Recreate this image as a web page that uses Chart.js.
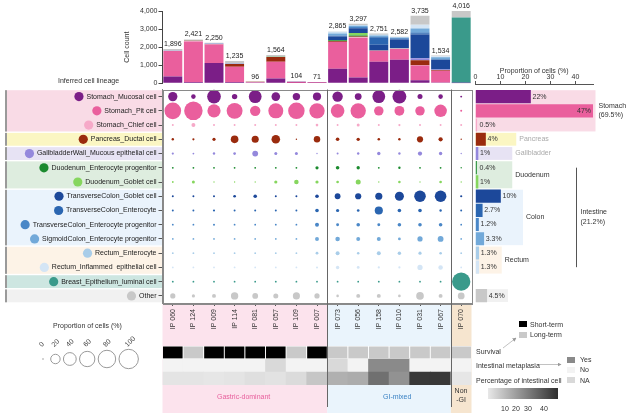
<!DOCTYPE html>
<html lang="en">
<head>
<meta charset="utf-8">
<title>Inferred cell lineage</title>
<script src="https://cdn.jsdelivr.net/npm/chart.js@4.4.1/dist/chart.umd.min.js"></script>
<style>
  html, body { margin: 0; padding: 0; background: #fff; }
  #fig { position: relative; width: 629px; height: 415px; overflow: hidden;
         font-family: "Liberation Sans", Arial, sans-serif; font-size: 7px; color: #333; }
  #fig canvas, #fig svg { position: absolute; left: 0; top: 0; }
  .txt { position: absolute; white-space: nowrap; line-height: 7px; }
  .key { position: absolute; width: 8px; height: 6px; }
</style>
</head>
<body>
<div id="fig">
  <canvas id="matrixChart" width="629" height="415"></canvas>
  <canvas id="heatChart" width="629" height="415"></canvas>
  <canvas id="propChart" width="629" height="415"></canvas>
  <canvas id="countChart" width="629" height="415"></canvas>

  <svg width="629" height="415">
    <defs>
      <marker id="arr" markerUnits="userSpaceOnUse" markerWidth="4" markerHeight="4" refX="3.5" refY="2" orient="auto">
        <path d="M0,0 L4,2 L0,4 z" fill="#999"/>
      </marker>
    </defs>
    <line x1="503" y1="348" x2="516" y2="338" stroke="#999" stroke-width="0.6" marker-end="url(#arr)"/>
    <line x1="537" y1="364.5" x2="561" y2="364.5" stroke="#999" stroke-width="0.6" marker-end="url(#arr)"/>
  </svg>

  <div class="txt" style="left:58px;top:77px">Inferred cell lineage</div>
  <div class="txt" style="left:53px;top:322px">Proportion of cells (%)</div>

  <div class="txt" style="left:217px;top:393px;color:#e8609d">Gastric-dominant</div>
  <div class="txt" style="left:383px;top:393px;color:#3b82c4">GI-mixed</div>
  <div class="txt" style="left:451px;top:387px;width:20px;text-align:center;line-height:8.5px">Non<br>-GI</div>

  <div class="key" style="left:519px;top:321px;background:#000"></div>
  <div class="txt" style="left:530px;top:321px">Short-term</div>
  <div class="key" style="left:519px;top:331.5px;background:#c9c9c9"></div>
  <div class="txt" style="left:530px;top:331px">Long-term</div>

  <div class="txt" style="left:476px;top:348px">Survival</div>
  <div class="txt" style="left:476px;top:361.5px">Intestinal metaplasia</div>
  <div class="txt" style="left:476px;top:376.5px">Percentage of intestinal cell</div>

  <div class="key" style="left:567px;top:356.5px;background:#8a8a8a"></div>
  <div class="txt" style="left:580px;top:356px">Yes</div>
  <div class="key" style="left:567px;top:366.5px;background:#f3f3f3"></div>
  <div class="txt" style="left:580px;top:366px">No</div>
  <div class="key" style="left:567px;top:376.5px;background:#d9d9d9"></div>
  <div class="txt" style="left:580px;top:377px">NA</div>

  <div style="position:absolute;left:488px;top:388px;width:70px;height:11px;background:linear-gradient(to right,#e8e8e8,#2e2e2e)"></div>
  <div class="txt" style="left:501px;top:404.5px">10</div>
  <div class="txt" style="left:512px;top:404.5px">20</div>
  <div class="txt" style="left:524px;top:404.5px">30</div>
  <div class="txt" style="left:540px;top:404.5px">40</div>
</div>

<script>
/* ── DATA ───────────────────────────────────────── */
const samples = ["IP 060", "IP 124", "IP 009", "IP 114", "IP 081", "IP 057", "IP 109", "IP 007",
  "IP 073", "IP 056", "IP 158", "IP 010", "IP 031", "IP 067", "IP 070"];
const cellTotals = [1896, 2421, 2250, 1235, 96, 1564, 104, 71, 2865, 3297, 2751, 2582, 3735, 1534, 4016];

const lineages = [
  "Stomach_Mucosal cell", "Stomach_Pit cell", "Stomach_Chief cell", "Pancreas_Ductal cell",
  "GallbladderWall_Mucous epithelial cell", "Duodenum_Enterocyte progenitor", "Duodenum_Goblet cell",
  "TransverseColon_Goblet cell", "TransverseColon_Enterocyte", "TransverseColon_Enterocyte progenitor",
  "SigmoidColon_Enterocyte progenitor", "Rectum_Enterocyte", "Rectum_Inflammed  epithelial cell",
  "Breast_Epithelium_luminal cell", "Other"];
const lineageColors = ["#7b1e87", "#ea5f9d", "#f6a9c8", "#9a2b0e", "#9488dc", "#1b8a2e", "#86d65e",
  "#1c489a", "#2b66b1", "#4a87c7", "#72a9d9", "#a9cde9", "#d4e5f5", "#3a9a8b", "#c8c8c8"];

// proportion of cells (%) in each sample, same order as samples
const mucosal     = [19, 3, 47, 5, 40, 16, 11, 14, 25, 9, 40, 48, 4, 3, 0.1];
const pit         = [72, 90, 43, 65, 25, 57, 70, 60, 46, 60, 20, 22, 20, 38, 0.1];
const chief       = [0.1, 2, 0.1, 0.1, 0.1, 0.1, 0.1, 0.5, 0.1, 0.8, 0.1, 0.2, 0.1, 0.1, 0.1];
const pancreas    = [0.3, 0.2, 1, 12, 10, 16, 0, 8, 1.5, 1.2, 0.4, 0.3, 7, 2.5, 0];
const gallbladder = [0.2, 0.05, 0.3, 0.5, 6, 0.8, 0.8, 0, 0.1, 0.3, 1.2, 0.3, 2.5, 1.2, 0];
const duoEntProg  = [0.05, 0.05, 0.05, 0.05, 0.05, 0.05, 0.05, 1, 1.5, 1.2, 0.05, 0.3, 0.05, 0.05, 0];
const duoGoblet   = [0.05, 0.8, 0, 0, 0, 1, 3, 1, 0.5, 4, 0, 0.4, 0, 0.5, 0];
const tcGoblet    = [0.1, 0.1, 0.1, 0.5, 1.5, 0.1, 0.1, 1.5, 6, 7, 10, 18, 32, 32, 0.2];
const tcEnt       = [0.1, 0.1, 0.2, 0.1, 0.1, 0.1, 0.1, 1.5, 1, 0.5, 14, 1.5, 1.5, 0.3, 0.1];
const tcEntProg   = [0.05, 0.05, 0.1, 0.05, 0.05, 0.05, 0.05, 2, 0.7, 1.5, 0.7, 1.5, 1.5, 1.5, 0.05];
const sigmoid     = [0.05, 0.05, 0.05, 0.05, 0.05, 0.05, 0.05, 2, 3, 2, 2, 0.6, 4.5, 6, 0.05];
const rectumEnt   = [0.05, 0.05, 0.05, 0.05, 0.05, 0.05, 0.05, 0.6, 2, 0.4, 2, 1.3, 1, 0.4, 0.05];
const rectumInfl  = [0.05, 0.05, 0.05, 0.05, 0.05, 0.05, 0.05, 0.1, 1.3, 0.6, 0.2, 0.2, 4.5, 3, 0.05];
const breast      = [0.05, 0.05, 0.05, 0.05, 0.05, 0.05, 0.05, 0.05, 0.05, 0.05, 0.05, 0.05, 0.05, 0.05, 88];
const other       = [4.5, 1, 2, 11, 6, 4, 10, 4.5, 0.4, 2, 2, 0.5, 12, 2, 9];
const proportions = [mucosal, pit, chief, pancreas, gallbladder, duoEntProg, duoGoblet, tcGoblet,
  tcEnt, tcEntProg, sigmoid, rectumEnt, rectumInfl, breast, other];

// overall proportion of cells (%) per lineage (breast not shown)
const overallPct = [22, 47, 0.5, 4, 1, 0.4, 1, 10, 2.7, 1.2, 3.3, 1.3, 1.3, null, 4.5];

// lineage groups (rows)
const groupNames  = ["Stomach\n(69.5%)", "Pancreas", "Gallbladder", "Duodenum", "Colon", "Rectum", "", ""];
const groupFirst  = [0, 3, 4, 5, 7, 11, 13, 14];
const groupLast   = [2, 3, 4, 6, 10, 12, 13, 14];
const groupFill   = ["#f9dbe6", "#fbf6c3", "#e7e3f4", "#deeddf", "#eaf3fc", "#fdf3e7", "#cde6e1", "#f1f1f1"];
const groupBand   = [48, 16.3, 14.7, 14.7, 19, 10.5, 0, 13];
const groupText   = ["#333", "#aaa", "#aaa", "#333", "#333", "#333", "#333", "#333"];
const intestineRows = [5, 12];
const intestineLabel = ["Intestine", "(21.2%)"];

// sample groups (columns)
const colGroupFirst = [0, 8, 14];
const colGroupLast  = [7, 13, 14];
const colGroupFill  = ["#fce3ed", "#eaf4fc", "#f6e5cf"];

// clinical tracks
const survival     = ["Short", "Long", "Short", "Short", "Short", "Short", "Long", "Short",
  "Long", "Long", "Long", "Long", "Long", "Long", "Long"];
const metaplasia   = ["No", "No", "No", "No", "No", "NA", "No", "No", "NA", "No", "Yes", "Yes", "No", "No", "No"];
const intestinalPct = [1, 1, 0.5, 1, 2, 1.5, 3, 8, 13, 14, 28, 20, 41, 41, 0.5];
const survivalColors = { Short: "#000000", Long: "#c9c9c9" };
const metaplasiaColors = { Yes: "#8a8a8a", No: "#f3f3f3", NA: "#d9d9d9" };

const sizeLegend = [0, 20, 40, 60, 80, 100];

/* ── HELPERS ────────────────────────────────────── */
const rOf = (p) => 0.9 * Math.sqrt(p) + 0.7;
const pctShade = (p) => {
  const g = Math.round(Math.max(40, 232 - p * 4.3));
  return `rgb(${g},${g},${g})`;
};
const sampleSums = samples.map((s, j) => proportions.reduce((acc, row) => acc + row[j], 0));
const FONT = '"Liberation Sans", Arial, sans-serif';

Chart.defaults.font.family = FONT;
Chart.defaults.font.size = 7;
Chart.defaults.color = "#333";
Chart.defaults.animation = false;
Chart.defaults.events = [];
Chart.defaults.plugins.legend.display = false;
Chart.defaults.plugins.tooltip.enabled = false;

/* ── MATRIX DECOR ───────────────────────────────── */
const matrixDecor = {
  id: "matrixDecor",
  beforeDraw(chart) {
    const { ctx, chartArea: a, scales: { x, y } } = chart;
    ctx.save();
    groupFirst.forEach((f, g) => {
      const y0 = y.getPixelForValue(f - 0.5) + 0.7;
      const y1 = y.getPixelForValue(groupLast[g] + 0.5) - 0.7;
      ctx.fillStyle = groupFill[g];
      ctx.fillRect(5, y0, a.left - 5, y1 - y0);
      ctx.fillStyle = "#9a9a9a";
      ctx.fillRect(5, y0, 2, y1 - y0);
    });
    colGroupFirst.forEach((f, g) => {
      const x0 = x.getPixelForValue(f - 0.5);
      const x1 = x.getPixelForValue(colGroupLast[g] + 0.5);
      ctx.fillStyle = colGroupFill[g];
      ctx.fillRect(x0, a.bottom, x1 - x0, 413 - a.bottom);
    });
    ctx.restore();
  },
  afterDraw(chart) {
    const { ctx, chartArea: a, scales: { x, y } } = chart;
    ctx.save();
    // frame and group separators
    ctx.strokeStyle = "#8a8a8a";
    ctx.lineWidth = 1;
    ctx.strokeRect(Math.round(a.left) + 0.5, Math.round(a.top) + 0.5,
      Math.round(a.right - a.left), Math.round(a.bottom - a.top));
    ctx.strokeStyle = "#666";
    colGroupLast.slice(0, -1).forEach((l) => {
      const px = Math.round(x.getPixelForValue(l + 0.5)) + 0.5;
      ctx.beginPath();
      ctx.moveTo(px, a.top);
      ctx.lineTo(px, 407);
      ctx.stroke();
    });
    // coloured dot in front of each lineage name
    ctx.font = `7px ${FONT}`;
    const labelRight = y.right - 4 - 2;
    lineages.forEach((name, i) => {
      const w = ctx.measureText(name).width;
      ctx.beginPath();
      ctx.arc(labelRight - w - 7.5, y.getPixelForValue(i), 4.6, 0, Math.PI * 2);
      ctx.fillStyle = lineageColors[i];
      ctx.fill();
    });
    // bubble size key
    let cx = 43;
    const cy = 359;
    sizeLegend.forEach((v, k) => {
      const r = rOf(v);
      if (k > 0) cx += rOf(sizeLegend[k - 1]) + r + (k === 1 ? 7 : 3.3);
      ctx.beginPath();
      ctx.arc(cx, cy, r, 0, Math.PI * 2);
      if (v === 0) {
        ctx.fillStyle = "#888";
        ctx.fill();
      } else {
        ctx.strokeStyle = "#999";
        ctx.lineWidth = 1;
        ctx.stroke();
      }
      ctx.save();
      ctx.translate(cx - 2.5, 346);
      ctx.rotate(-Math.PI / 4);
      ctx.fillStyle = "#444";
      ctx.textAlign = "left";
      ctx.textBaseline = "middle";
      ctx.fillText(String(v), 0, 0);
      ctx.restore();
    });
    ctx.restore();
  },
};

/* ── MATRIX (bubble) ────────────────────────────── */
new Chart(document.getElementById("matrixChart"), {
  type: "bubble",
  data: {
    datasets: lineages.map((name, i) => ({
      label: name,
      data: samples.map((s, j) => ({ x: s, y: name, r: rOf(proportions[i][j]) })),
      backgroundColor: lineageColors[i],
      borderWidth: 0,
    })),
  },
  options: {
    responsive: false,
    layout: { padding: { left: 12.5, right: 157.5, top: 89.5, bottom: 77 } },
    scales: {
      x: {
        type: "category",
        labels: samples,
        offset: true,
        grid: { drawOnChartArea: false, tickLength: 3, color: "#555" },
        border: { color: "#888" },
        ticks: { autoSkip: false, minRotation: 90, maxRotation: 90, padding: 3, color: "#333" },
        afterFit: (s) => { s.height = 35; },
      },
      y: {
        type: "category",
        labels: lineages,
        offset: true,
        grid: { drawOnChartArea: false, tickLength: 4, color: "#555" },
        border: { color: "#888" },
        ticks: { autoSkip: false, padding: 2, color: "#222" },
        afterFit: (s) => { s.width = 150; },
      },
    },
  },
  plugins: [matrixDecor],
});

/* ── CLINICAL TRACKS (heatmap) ──────────────────── */
const heatDecor = {
  id: "heatDecor",
  afterDraw(chart) {
    const { ctx, chartArea: a, scales: { x } } = chart;
    ctx.save();
    ctx.strokeStyle = "#666";
    ctx.lineWidth = 1;
    colGroupLast.slice(0, -1).forEach((l) => {
      const px = Math.round(x.getPixelForValue(l + 0.5)) + 0.5;
      ctx.beginPath();
      ctx.moveTo(px, a.top);
      ctx.lineTo(px, a.bottom);
      ctx.stroke();
    });
    ctx.restore();
  },
};

new Chart(document.getElementById("heatChart"), {
  type: "bar",
  data: {
    labels: samples,
    datasets: [
      { label: "Percentage of intestinal cell", data: samples.map(() => 1),
        backgroundColor: intestinalPct.map(pctShade) },
      { label: "Intestinal metaplasia", data: samples.map(() => 1),
        backgroundColor: metaplasia.map((m) => metaplasiaColors[m]) },
      { label: "Survival", data: samples.map(() => 1),
        backgroundColor: survival.map((s) => survivalColors[s]),
        borderColor: "#fff", borderWidth: 0.8, borderSkipped: false },
    ],
  },
  options: {
    responsive: false,
    layout: { padding: { left: 162.5, right: 157.5, top: 346, bottom: 30 } },
    datasets: { bar: { barPercentage: 1, categoryPercentage: 1 } },
    scales: {
      x: { display: false, stacked: true },
      y: { display: false, stacked: true, min: 0, max: 3 },
    },
  },
  plugins: [heatDecor],
});

/* ── OVERALL PROPORTION (right bars) ────────────── */
const propRows = lineages.map((n, i) => i).filter((i) => overallPct[i] !== null);

const propDecor = {
  id: "propDecor",
  beforeDatasetsDraw(chart) {
    const { ctx, chartArea: a, scales: { x, y } } = chart;
    ctx.save();
    groupFirst.forEach((f, g) => {
      if (!groupBand[g]) return;
      const y0 = y.getPixelForValue(f - 0.5) + 0.7;
      const y1 = y.getPixelForValue(groupLast[g] + 0.5) - 0.7;
      ctx.fillStyle = groupFill[g];
      ctx.fillRect(a.left, y0, x.getPixelForValue(groupBand[g]) - a.left, y1 - y0);
    });
    ctx.restore();
  },
  afterDatasetsDraw(chart) {
    const { ctx, chartArea: a, scales: { x, y } } = chart;
    ctx.save();
    ctx.font = `7px ${FONT}`;
    ctx.textBaseline = "middle";
    // value labels
    chart.getDatasetMeta(0).data.forEach((bar, k) => {
      const v = overallPct[propRows[k]];
      ctx.fillStyle = "#333";
      if (v > 40) {
        ctx.textAlign = "right";
        ctx.fillText(v + "%", bar.x - 2, bar.y);
      } else {
        ctx.textAlign = "left";
        ctx.fillText(v + "%", Math.max(bar.x + 2, a.left + 4), bar.y);
      }
    });
    // group names beside the bands
    ctx.textAlign = "left";
    groupNames.forEach((name, g) => {
      if (!name) return;
      const lines = name.split("\n");
      const yc = (y.getPixelForValue(groupFirst[g]) + y.getPixelForValue(groupLast[g])) / 2;
      ctx.fillStyle = groupText[g];
      lines.forEach((t, k) => {
        ctx.fillText(t, x.getPixelForValue(groupBand[g]) + 3, yc + (k - (lines.length - 1) / 2) * 9);
      });
    });
    // intestine bracket
    const y0 = y.getPixelForValue(intestineRows[0]);
    const y1 = y.getPixelForValue(intestineRows[1]);
    const lx = Math.round(x.getPixelForValue(40)) + 0.5;
    ctx.strokeStyle = "#555";
    ctx.lineWidth = 1;
    ctx.beginPath();
    ctx.moveTo(lx, y0);
    ctx.lineTo(lx, y1);
    ctx.stroke();
    ctx.fillStyle = "#333";
    intestineLabel.forEach((t, k) => {
      ctx.fillText(t, lx + 4, (y0 + y1) / 2 + (k - 0.5) * 10);
    });
    ctx.restore();
  },
};

new Chart(document.getElementById("propChart"), {
  type: "bar",
  data: {
    datasets: [{
      data: propRows.map((i) => ({ x: overallPct[i], y: i })),
      backgroundColor: propRows.map((i) => lineageColors[i]),
      barThickness: 12.5,
    }],
  },
  options: {
    indexAxis: "y",
    responsive: false,
    layout: { padding: { left: 475.5, right: 36, top: 64, bottom: 112 } },
    scales: {
      x: {
        type: "linear",
        position: "top",
        min: 0,
        max: 47,
        ticks: { stepSize: 10, padding: 0, includeBounds: false },
        grid: { drawOnChartArea: false, tickLength: 3, color: "#555" },
        border: { color: "#555" },
        title: { display: true, text: "Proportion of cells (%)", padding: { top: 3, bottom: 1 } },
        afterFit: (s) => { s.height = 20; },
      },
      y: { type: "linear", display: false, offset: false, reverse: true, min: -0.887, max: 14.52 },
    },
  },
  plugins: [propDecor],
});

/* ── CELL COUNTS (top stacked bars) ─────────────── */
const totalLabels = {
  id: "totalLabels",
  afterDatasetsDraw(chart) {
    const { ctx, scales: { x, y } } = chart;
    ctx.save();
    ctx.font = `7px ${FONT}`;
    ctx.fillStyle = "#222";
    ctx.textAlign = "center";
    ctx.textBaseline = "bottom";
    cellTotals.forEach((t, j) => {
      ctx.fillText(t.toLocaleString("en-US"), x.getPixelForValue(j), y.getPixelForValue(t) - 1.5);
    });
    ctx.restore();
  },
};

new Chart(document.getElementById("countChart"), {
  type: "bar",
  data: {
    labels: samples,
    datasets: lineages.map((name, i) => ({
      label: name,
      data: samples.map((s, j) => (cellTotals[j] * proportions[i][j]) / sampleSums[j]),
      backgroundColor: lineageColors[i],
    })),
  },
  options: {
    responsive: false,
    layout: { padding: { left: 122.5, right: 157.5, top: 11, bottom: 331.7 } },
    datasets: { bar: { barPercentage: 0.92, categoryPercentage: 1 } },
    scales: {
      x: { display: false, stacked: true },
      y: {
        stacked: true,
        min: 0,
        max: 4000,
        ticks: { stepSize: 1000, padding: 1, callback: (v) => v.toLocaleString("en-US") },
        grid: { drawOnChartArea: false, tickLength: 4, color: "#444" },
        border: { color: "#444" },
        title: { display: true, text: "Cell count", padding: { top: 0, bottom: 3 } },
        afterFit: (s) => { s.width = 40; },
      },
    },
  },
  plugins: [totalLabels],
});
</script>
</body>
</html>
